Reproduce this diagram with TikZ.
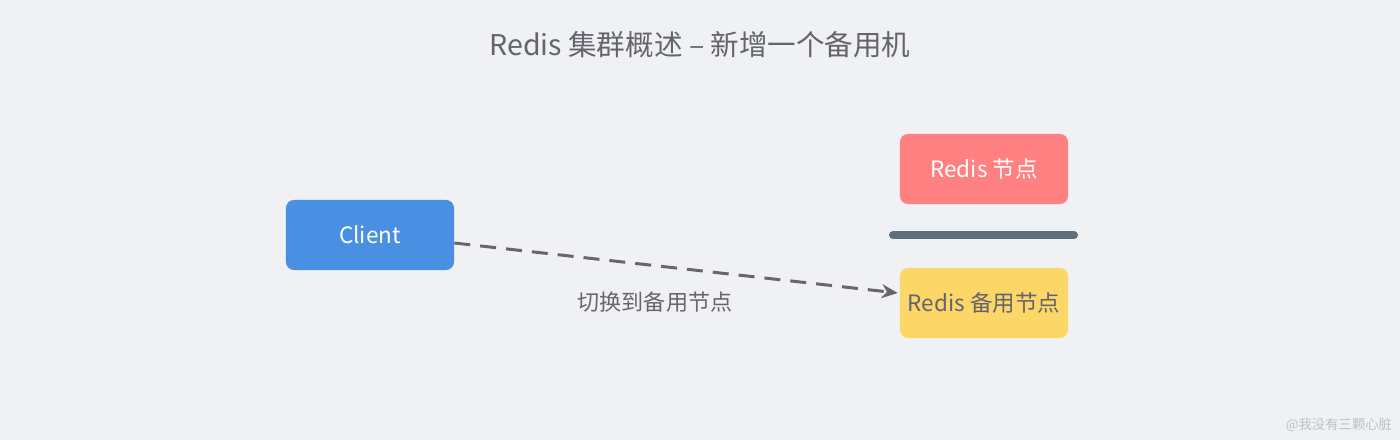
\documentclass[tikz,border=0pt]{standalone}
\usepackage{fontspec}
\newfontfamily\cjk{Noto Sans CJK SC}
\usetikzlibrary{arrows.meta, positioning, calc}
\usepackage{xcolor}
\definecolor{canvas}{RGB}{240,241,245}
\definecolor{titlegray}{RGB}{100,100,108}
\definecolor{clientblue}{RGB}{74,144,226}
\definecolor{masterred}{RGB}{255,128,128}
\definecolor{backupyellow}{RGB}{252,215,104}
\definecolor{linegray}{RGB}{95,112,122}
\definecolor{arrowgray}{RGB}{102,102,108}
\definecolor{markgray}{RGB}{190,192,198}

\tikzset{
  box/.style={rounded corners=0.2cm, minimum width=4.2cm, minimum height=1.75cm,
              inner sep=0pt, font=\cjk\fontsize{16}{18}\selectfont},
}

\begin{document}
\begin{tikzpicture}[x=0.025cm, y=-0.025cm]
    \fill[canvas] (0,0) rectangle (1400,440);
    \useasboundingbox (0,0) rectangle (1400,440);
    \node[font=\cjk\fontsize{20.3}{24}\selectfont, text=titlegray] (title) at (700,45)
      {Redis 集群概述 – 新增一个备用机};
    \node[box, fill=clientblue, text=white] (client) at (370,235) {Client};
    \node[box, fill=masterred, text=white] (master) at (984,169) {Redis 节点};
    \node[box, fill=backupyellow, text=titlegray] (backup) at (984,303) {Redis 备用节点};
    \coordinate (barl) at (893,235);
    \coordinate (barr) at (1074,235);
    \draw[linegray, line width=0.2cm, line cap=round] (barl) -- (barr);
    \draw[arrowgray, line width=0.075cm, dash pattern=on 0.4cm off 0.25cm,
          -{Stealth[length=0.4cm, width=0.35cm]}]
      ([yshift=-0.2cm]client.east) -- ([yshift=0.25cm, xshift=-0.05cm]backup.west);
    \node[font=\cjk\fontsize{15.7}{18}\selectfont, text=arrowgray] (switch) at (655,302)
      {切换到备用节点};
    \node[font=\cjk\fontsize{9.5}{11}\selectfont, text=markgray] (mark) at (1339,425)
      {@我没有三颗心脏};
  \end{tikzpicture}
\end{document}
